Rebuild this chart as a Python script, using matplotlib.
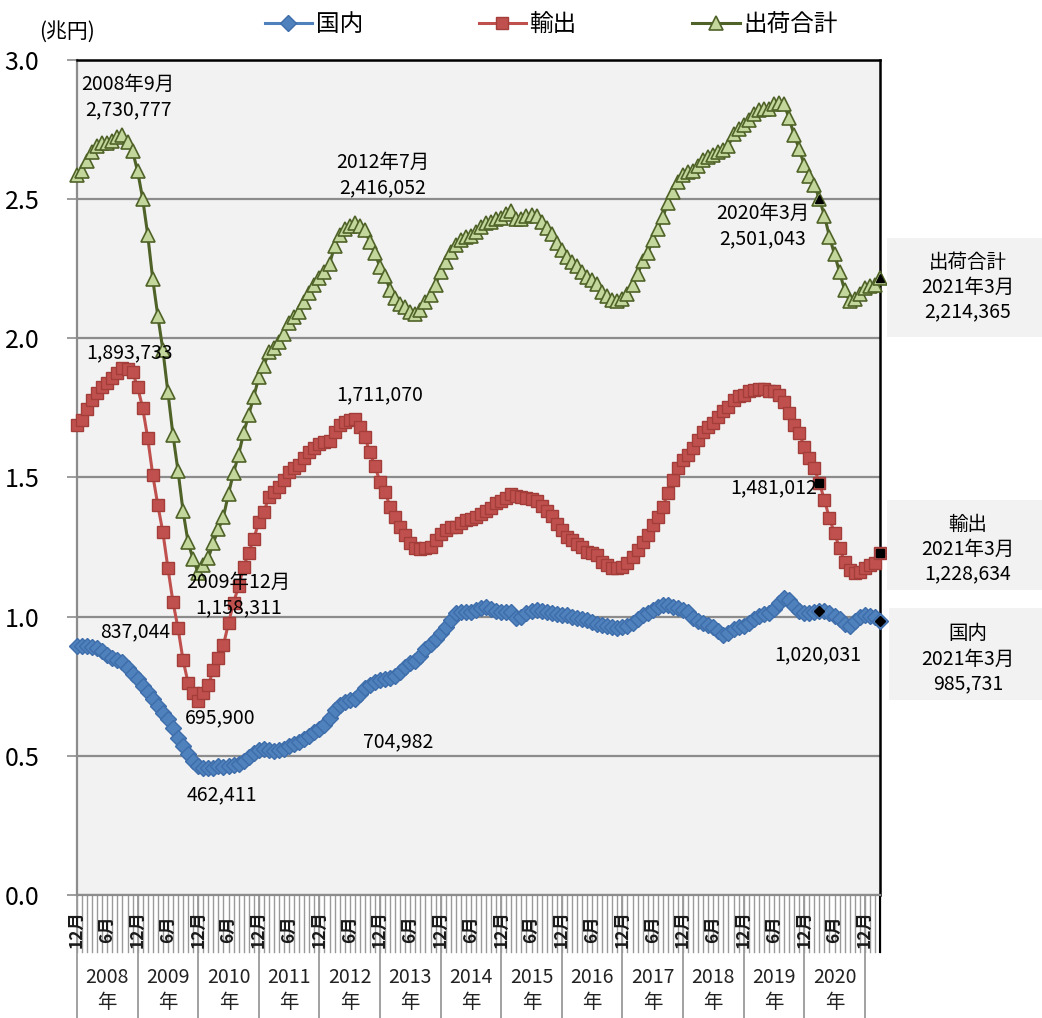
import matplotlib.pyplot as plt
import matplotlib.transforms as mtransforms
from matplotlib.patches import Rectangle
import numpy as np

plt.rcParams['font.family'] = ['Noto Sans CJK JP', 'DejaVu Sans']

# 月次データ 2007年12月 ～ 2021年3月 (兆円)
domestic = [
    0.895, 0.895, 0.893, 0.890, 0.886, 0.875, 0.862, 0.852, 0.846, 0.837,
    0.815, 0.795, 0.775, 0.752, 0.730, 0.703, 0.680, 0.655, 0.632, 0.600,
    0.565, 0.535, 0.505, 0.480, 0.462, 0.458, 0.455, 0.458, 0.462, 0.461,
    0.465, 0.467, 0.472, 0.480, 0.495, 0.510, 0.520, 0.525, 0.521, 0.516,
    0.520, 0.526, 0.535, 0.543, 0.550, 0.560, 0.572, 0.585, 0.598, 0.612,
    0.635, 0.665, 0.682, 0.692, 0.700, 0.705, 0.722, 0.745, 0.755, 0.765,
    0.771, 0.775, 0.779, 0.788, 0.800, 0.818, 0.832, 0.842, 0.860, 0.884,
    0.902, 0.918, 0.940, 0.963, 0.988, 1.012, 1.016, 1.018, 1.018, 1.024,
    1.030, 1.034, 1.026, 1.020, 1.018, 1.018, 1.016, 0.994, 1.000, 1.012,
    1.020, 1.024, 1.022, 1.018, 1.013, 1.008, 1.006, 1.005, 1.000, 0.996,
    0.990, 0.988, 0.982, 0.974, 0.970, 0.968, 0.964, 0.960, 0.962, 0.966,
    0.976, 0.990, 1.006, 1.012, 1.024, 1.034, 1.042, 1.042, 1.036, 1.030,
    1.024, 1.015, 0.995, 0.985, 0.976, 0.970, 0.962, 0.950, 0.935, 0.940,
    0.955, 0.962, 0.968, 0.976, 0.990, 1.004, 1.008, 1.012, 1.028, 1.048,
    1.068, 1.060, 1.040, 1.020, 1.012, 1.014, 1.018, 1.020, 1.022, 1.012,
    1.002, 0.992, 0.975, 0.965, 0.985, 0.998, 1.005, 1.002, 0.998, 0.986,
]
export = [
    1.690, 1.705, 1.745, 1.780, 1.805, 1.825, 1.840, 1.858, 1.876, 1.894,
    1.890, 1.878, 1.825, 1.750, 1.642, 1.509, 1.401, 1.304, 1.175, 1.053,
    0.959, 0.844, 0.762, 0.726, 0.696, 0.726, 0.755, 0.808, 0.852, 0.898,
    0.977, 1.050, 1.110, 1.180, 1.230, 1.280, 1.340, 1.376, 1.430, 1.448,
    1.466, 1.491, 1.520, 1.534, 1.545, 1.570, 1.590, 1.605, 1.620, 1.628,
    1.632, 1.665, 1.690, 1.700, 1.705, 1.711, 1.680, 1.645, 1.590, 1.540,
    1.485, 1.448, 1.395, 1.358, 1.323, 1.293, 1.263, 1.246, 1.242, 1.246,
    1.252, 1.275, 1.298, 1.310, 1.322, 1.323, 1.338, 1.346, 1.350, 1.358,
    1.370, 1.380, 1.392, 1.410, 1.416, 1.428, 1.440, 1.435, 1.430, 1.426,
    1.422, 1.416, 1.396, 1.380, 1.362, 1.333, 1.310, 1.287, 1.275, 1.262,
    1.250, 1.233, 1.227, 1.222, 1.198, 1.184, 1.174, 1.175, 1.180, 1.192,
    1.216, 1.240, 1.270, 1.294, 1.330, 1.359, 1.395, 1.443, 1.491, 1.533,
    1.563, 1.581, 1.605, 1.635, 1.665, 1.680, 1.695, 1.719, 1.740, 1.752,
    1.779, 1.791, 1.797, 1.809, 1.815, 1.817, 1.817, 1.812, 1.812, 1.797,
    1.773, 1.731, 1.690, 1.660, 1.611, 1.569, 1.533, 1.481, 1.419, 1.353,
    1.300, 1.246, 1.198, 1.168, 1.156, 1.162, 1.174, 1.186, 1.192, 1.229,
]
# 出荷合計 = 国内 + 輸出
total = [d + e for d, e in zip(domestic, export)]

years = [str(y) for y in range(2008, 2021)]
month_of = [(11 + i) % 12 + 1 for i in range(len(domestic))]

c_dom, c_dom_e = '#4F81BD', '#3D6DAA'
c_exp, c_exp_e = '#C0504D', '#A33D3A'
c_tot, c_tot_f = '#4F6228', '#C3D69B'

fs_note = 14

fig = plt.figure(figsize=(10.42, 10.18), dpi=100)
ax = fig.add_axes([0.0739, 0.1208, 0.7706, 0.9411 - 0.1208])
ax.set_facecolor('#F2F2F2')

x = np.arange(len(domestic))
ax.plot(x, domestic, color=c_dom, lw=2.2, marker='D', ms=8.5, mfc=c_dom,
        mec=c_dom_e, mew=1.0, label='国内', clip_on=False, zorder=3)
ax.plot(x, export, color=c_exp, lw=2.2, marker='s', ms=8.5, mfc=c_exp,
        mec=c_exp_e, mew=1.0, label='輸出', clip_on=False, zorder=3)
ax.plot(x, total, color=c_tot, lw=2.2, marker='^', ms=9.5, mfc=c_tot_f,
        mec=c_tot, mew=1.2, label='出荷合計', clip_on=False, zorder=3)

# 2020年3月・2021年3月 の黒マーカー
for i in (147, len(x) - 1):
    ax.plot(x[i], total[i], marker='^', ms=6, color='black', zorder=5, clip_on=False)
    ax.plot(x[i], export[i], marker='s', ms=6, color='black', zorder=5, clip_on=False)
    ax.plot(x[i], domestic[i], marker='D', ms=5.5, color='black', zorder=5, clip_on=False)

ax.set_xlim(0, len(x) - 1)
ax.set_ylim(0, 3.0)
ax.set_yticks(np.arange(0, 3.01, 0.5))
ax.set_yticklabels([f'{v:.1f}' for v in np.arange(0, 3.01, 0.5)], fontsize=18)
ax.yaxis.grid(True, color='#8C8C8C', lw=1.6)
ax.set_axisbelow(True)
ax.tick_params(axis='y', length=7, width=1.2, color='#8C8C8C', pad=20)
ax.set_xticks([])
for s in ('left', 'bottom'):
    ax.spines[s].set_color('#8C8C8C')
    ax.spines[s].set_linewidth(1.6)
for s in ('top', 'right'):
    ax.spines[s].set_color('black')
    ax.spines[s].set_linewidth(1.8)

# 月目盛りと年区切り
trans = mtransforms.blended_transform_factory(ax.transData, ax.transAxes)
tick_h = 57 / 835
bottom_h = 123 / 835
for i in x:
    ax.plot([i, i], [0, -tick_h], transform=trans, color='#9A9A9A', lw=1.0,
            clip_on=False, zorder=1)
    if i % 6 == 0:
        ax.text(i, -0.041, f'{month_of[i]}月', transform=trans, rotation=90,
                ha='center', va='center', fontsize=12.5, fontweight='bold',
                color='#1A1A1A')
    if month_of[i] == 12:
        ax.plot([i, i], [0, -bottom_h], transform=trans, color='#9A9A9A',
                lw=1.3, clip_on=False, zorder=1)
ax.plot([x[-1], x[-1]], [0, -tick_h], transform=trans, color='black', lw=1.5,
        clip_on=False)
for k, yr in enumerate(years):
    ax.text(12 * k + 6, -0.114, yr + '\n年', transform=trans, ha='center',
            va='center', fontsize=14, linespacing=1.25, color='#222222')

# 注記
ax.text(10.1, 2.867, '2008年9月\n2,730,777', ha='center', va='center',
        fontsize=fs_note, linespacing=1.3)
ax.text(10.3, 1.948, '1,893,733', ha='center', va='center', fontsize=fs_note)
ax.text(11.5, 0.945, '837,044', ha='center', va='center', fontsize=fs_note)
ax.text(32.0, 1.078, '2009年12月\n1,158,311', ha='center', va='center',
        fontsize=fs_note, linespacing=1.3)
ax.text(28.3, 0.636, '695,900', ha='center', va='center', fontsize=fs_note)
ax.text(28.7, 0.359, '462,411', ha='center', va='center', fontsize=fs_note)
ax.text(60.6, 2.587, '2012年7月\n2,416,052', ha='center', va='center',
        fontsize=fs_note, linespacing=1.3)
ax.text(60.0, 1.797, '1,711,070', ha='center', va='center', fontsize=fs_note)
ax.text(63.6, 0.550, '704,982', ha='center', va='center', fontsize=fs_note)
ax.text(135.8, 2.404, '2020年3月\n2,501,043', ha='center', va='center',
        fontsize=fs_note, linespacing=1.3)
ax.text(138.0, 1.462, '1,481,012', ha='center', va='center', fontsize=fs_note)
ax.text(146.7, 0.862, '1,020,031', ha='center', va='center', fontsize=fs_note)

fig.text(0.064, 0.969, '(兆円)', ha='center', va='center', fontsize=15)

# 右側のボックス
boxes = [
    (0.851, 0.669, 0.0973, 0.718, '出荷合計\n2021年3月\n2,214,365'),
    (0.851, 0.4204, 0.0884, 0.4607, '輸出\n2021年3月\n1,228,634'),
    (0.853, 0.3124, 0.0904, 0.3527, '国内\n2021年3月\n985,731'),
]
for bx, by, bh, ty, txt in boxes:
    fig.patches.append(Rectangle((bx, by), 1.0 - bx, bh, transform=fig.transFigure,
                                 facecolor='#F2F2F2', edgecolor='none'))
    fig.text(0.929, ty, txt, ha='center', va='center', fontsize=fs_note,
             linespacing=1.25)

fig.legend(loc='upper center', bbox_to_anchor=(0.529, 1.008), ncol=3,
           frameon=False, fontsize=17, handlelength=2.0, columnspacing=4.9,
           handletextpad=0.15)

fig.savefig('out.png', dpi=100)
